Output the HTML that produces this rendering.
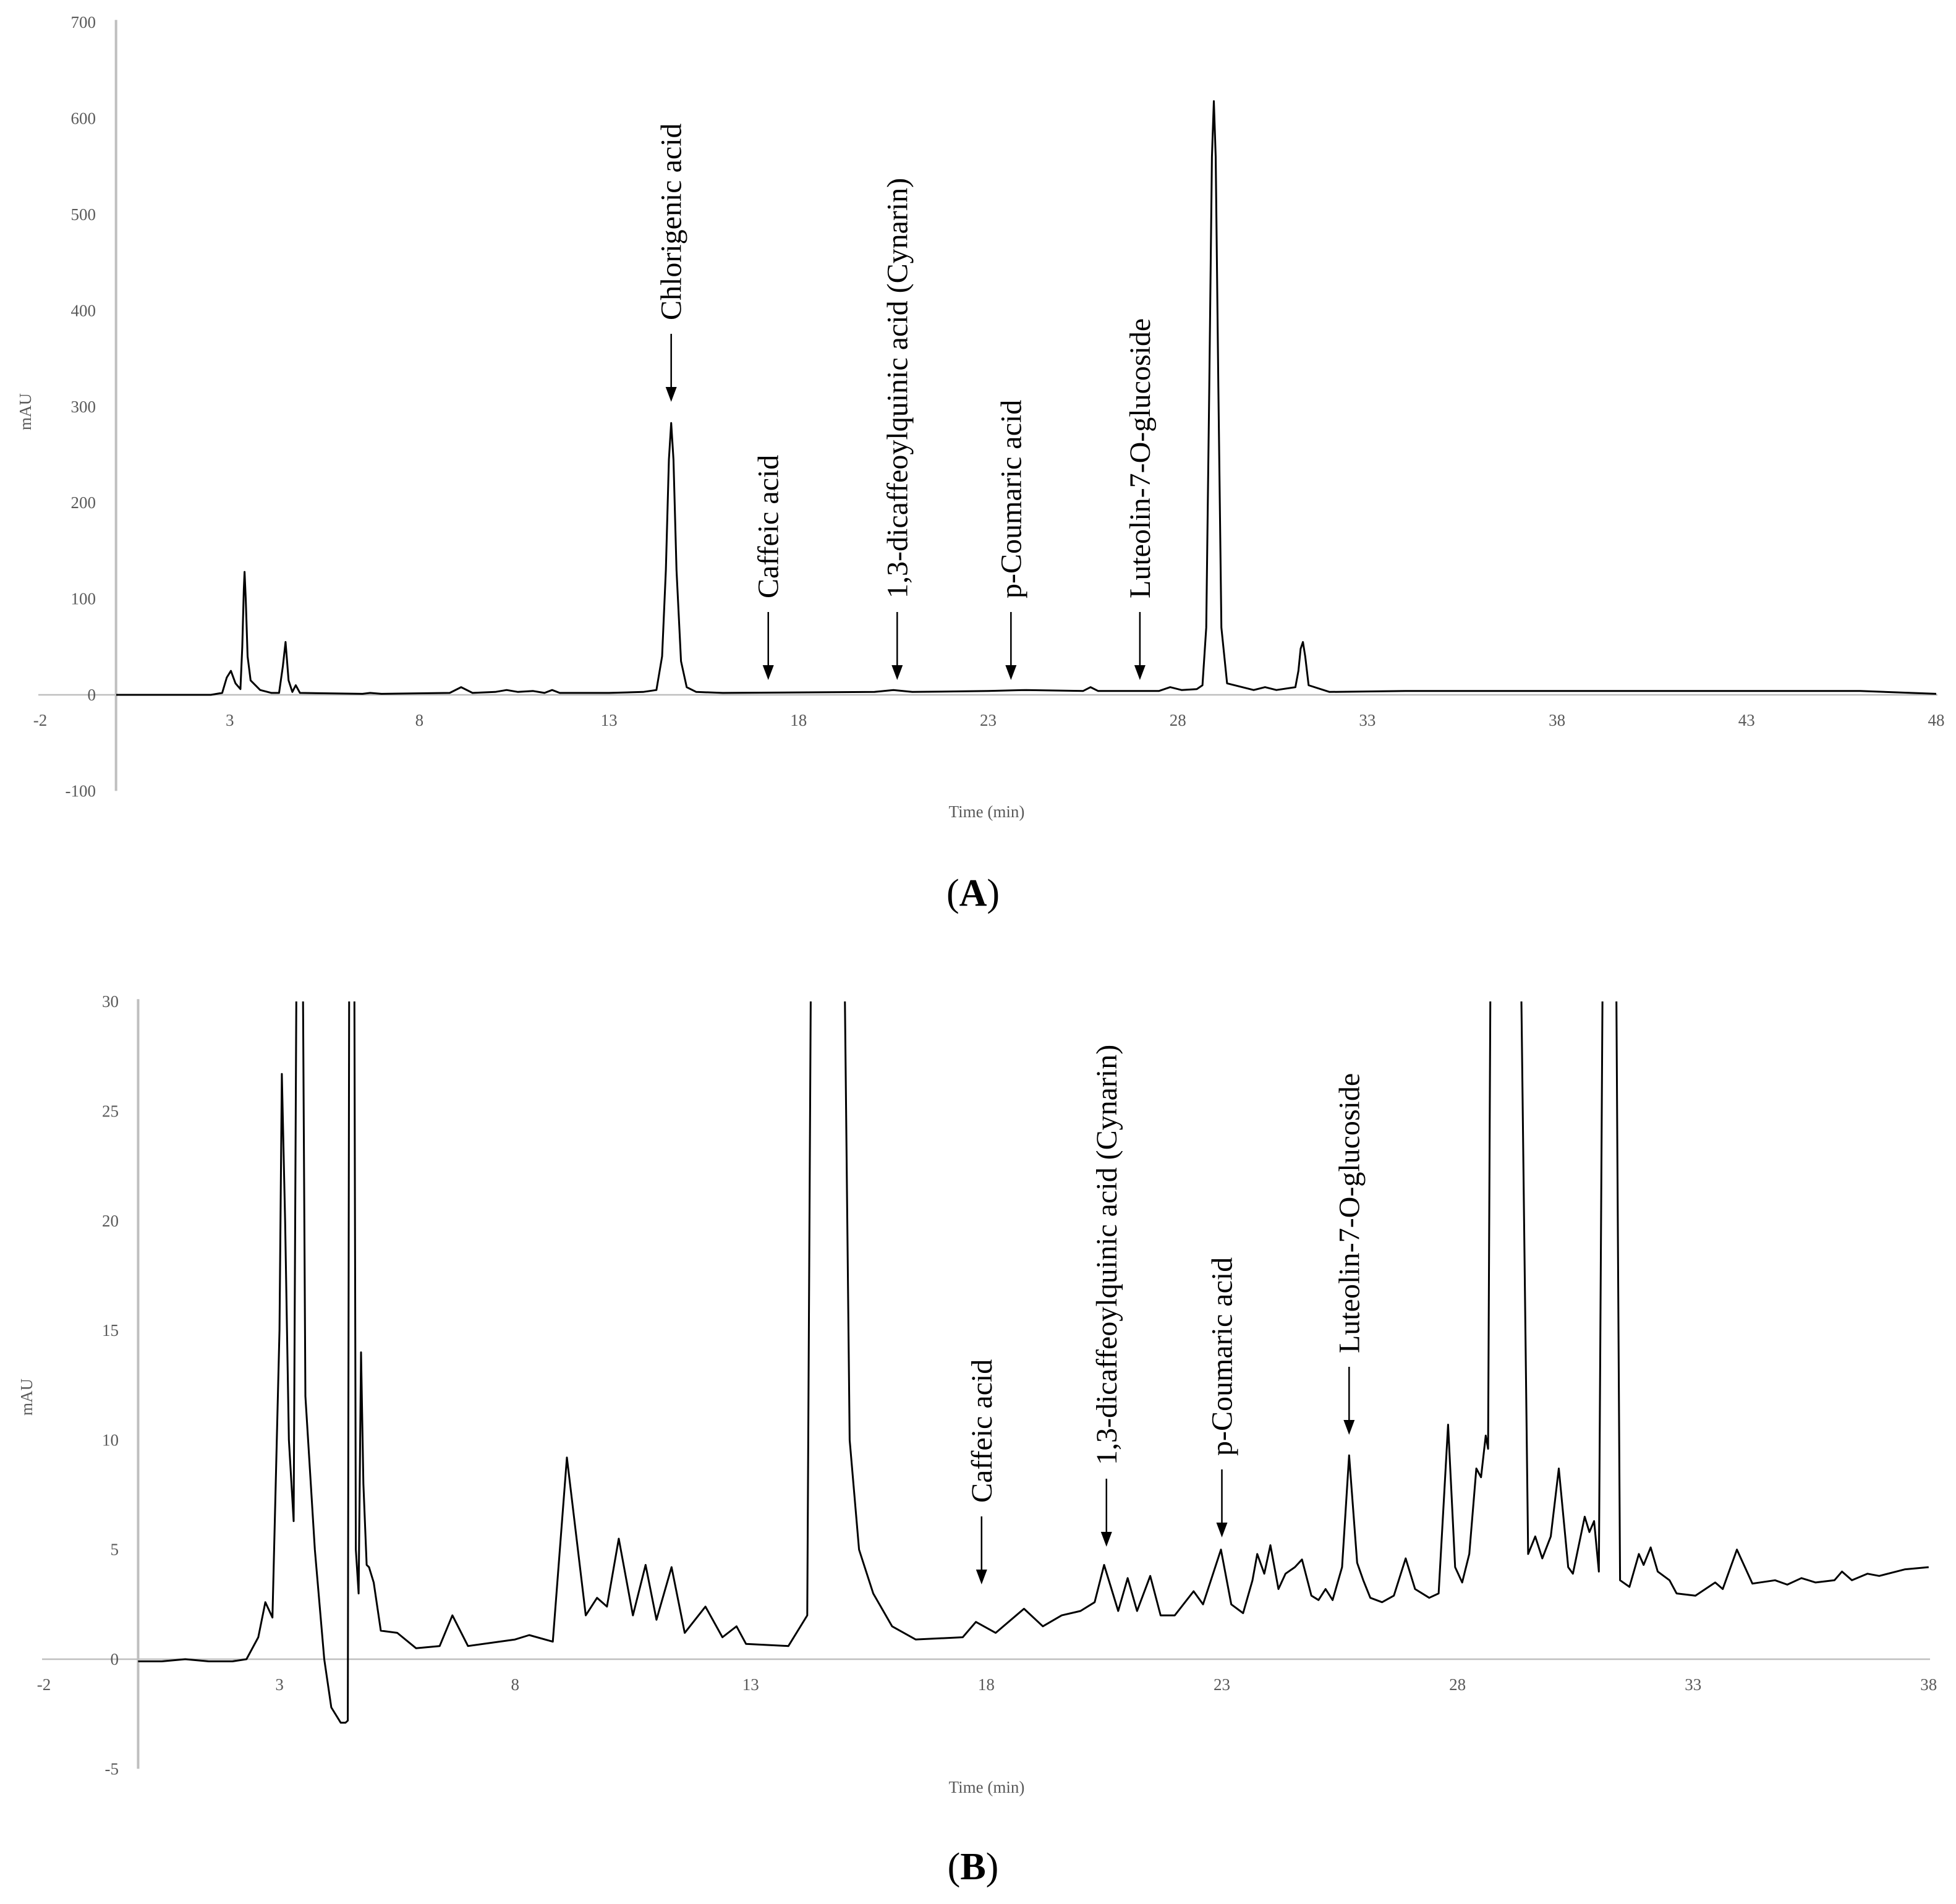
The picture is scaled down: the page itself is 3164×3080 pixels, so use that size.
<!DOCTYPE html>
<html><head><meta charset="utf-8"><style>
html,body{margin:0;padding:0;background:#fff}
svg{display:block}
text{font-family:"Liberation Serif",serif}
.tick{fill:#595959;font-size:27px}
.ann{fill:#000;font-size:48px}
</style></head><body>
<svg id="svg" width="3164" height="3080" viewBox="0 0 3164 3080">
<defs>
<clipPath id="clipA"><rect x="188" y="20" width="2960" height="1260"/></clipPath>
<clipPath id="clipB"><rect x="223" y="1620" width="2920" height="1245"/></clipPath>
</defs>
<g id="panelA"></g>
<g id="panelB"></g>
<text x="1596" y="1322" text-anchor="middle" class="tick">Time (min)</text>
<text x="50" y="666" text-anchor="middle" class="tick" transform="rotate(-90 50 666)">mAU</text>
<text x="1574" y="1465" text-anchor="middle" font-size="62">(<tspan font-weight="bold">A</tspan>)</text>
<text x="1596" y="2900" text-anchor="middle" class="tick">Time (min)</text>
<text x="52" y="2260" text-anchor="middle" class="tick" transform="rotate(-90 52 2260)">mAU</text>
<text x="1574" y="3040" text-anchor="middle" font-size="62">(<tspan font-weight="bold">B</tspan>)</text>
</svg>
<script>
// Panel A data
const aTime=[0,2.5,2.8,2.92,3.03,3.15,3.28,3.33,3.37,3.39,
3.42,3.47,3.55,3.8,4.1,4.3,4.4,4.47,4.55,4.65,
4.74,4.85,6.5,6.7,7,8.8,9.1,9.4,10,10.3,
10.6,11,11.3,11.5,11.7,13,13.9,14.25,14.4,14.5,
14.58,14.64,14.7,14.78,14.9,15.05,15.3,16,20,20.5,
21,23,24,25.5,25.7,25.9,27.5,27.8,28.1,28.5,
28.65,28.75,28.83,28.9,28.95,29.0,29.07,29.15,29.3,30,
30.3,30.6,31.1,31.18,31.24,31.3,31.36,31.45,32,34,
40,46,48];
const aValue=[0,0,2,18,25,12,6,50,110,128,
100,40,15,5,2,2,30,55,15,3,
10,2,1,2,1,2,8,2,3,5,
3,4,2,5,2,2,3,5,40,130,
245,283,245,130,35,8,3,2,3,5,
3,4,5,4,8,4,4,8,5,6,
10,70,320,560,618,560,320,70,12,5,
8,5,8,25,48,55,40,10,3,4,
4,4,1];
const aXTicks=[-2,3,8,13,18,23,28,33,38,43,48];
const aYTicks=[-100,0,100,200,300,400,500,600,700];
const aLabels=["Chlorigenic acid","Caffeic acid","1,3-dicaffeoylquinic acid (Cynarin)","p-Coumaric acid","Luteolin-7-O-glucoside"];
const aLabelTimes=[14.64,17.2,20.6,23.6,27.0];
// Panel B data
const bTime=[0,0.5,1,1.5,2,2.3,2.55,2.7,2.85,3.0,
3.05,3.12,3.2,3.3,3.38,3.45,3.5,3.55,3.75,3.95,
4.1,4.3,4.4,4.45,4.5,4.56,4.62,4.68,4.73,4.78,
4.85,4.9,5.0,5.15,5.5,5.9,6.4,6.67,7.0,8.0,
8.3,8.8,9.1,9.5,9.74,9.95,10.2,10.5,10.77,11.0,
11.32,11.6,12.04,12.4,12.7,12.9,13.8,14.2,14.3,14.45,
14.65,14.85,14.95,15.1,15.3,15.6,16,16.5,17.5,17.78,
18.2,18.8,19.2,19.6,20.0,20.3,20.5,20.8,21.0,21.2,
21.48,21.7,22.0,22.4,22.6,22.98,23.2,23.45,23.65,23.75,
23.9,24.03,24.2,24.35,24.55,24.7,24.9,25.05,25.2,25.35,
25.55,25.7,25.87,26.0,26.15,26.4,26.65,26.9,27.1,27.4,
27.6,27.8,27.95,28.1,28.25,28.4,28.5,28.6,28.65,28.72,
29.0,29.3,29.5,29.65,29.8,29.98,30.15,30.35,30.45,30.7,
30.8,30.9,31.0,31.15,31.3,31.45,31.65,31.85,31.95,32.1,
32.25,32.5,32.65,33.05,33.47,33.63,33.93,34.26,34.74,35.0,
35.3,35.6,36.0,36.16,36.37,36.7,36.95,37.5,38.0];
const bValue=[-0.1,-0.1,0,-0.1,-0.1,0,1.0,2.6,1.9,15,
26.7,20,10,6.3,40,128,30,12,5,0,
-2.2,-2.9,-2.9,-2.8,55,55,5,3.0,14,8,
4.3,4.2,3.5,1.3,1.2,0.5,0.6,2,0.6,0.9,
1.1,0.8,9.2,2,2.8,2.4,5.5,2,4.3,1.8,
4.2,1.2,2.4,1.0,1.5,0.7,0.6,2,40,150,
280,150,40,10,5,3,1.5,0.9,1.0,1.7,
1.2,2.3,1.5,2.0,2.2,2.6,4.3,2.2,3.7,2.2,
3.8,2.0,2.0,3.1,2.5,5.0,2.5,2.1,3.6,4.8,
3.9,5.2,3.2,3.9,4.2,4.55,2.9,2.7,3.2,2.7,
4.2,9.3,4.4,3.6,2.8,2.6,2.9,4.6,3.2,2.8,
3.0,10.7,4.2,3.5,4.8,8.7,8.3,10.2,9.6,40,
600,40,4.8,5.6,4.6,5.6,8.7,4.2,3.9,6.5,
5.8,6.3,4.0,55,55,3.6,3.3,4.8,4.3,5.1,
4.0,3.6,3.0,2.9,3.5,3.2,5.0,3.45,3.6,3.4,
3.7,3.5,3.6,4.0,3.6,3.9,3.8,4.1,4.2];
const bXTicks=[-2,3,8,13,18,23,28,33,38];
const bYTicks=[-5,0,5,10,15,20,25,30];
const bLabels=["Caffeic acid","1,3-dicaffeoylquinic acid (Cynarin)","p-Coumaric acid","Luteolin-7-O-glucoside"];
const bLabelTimes=[17.9,20.55,23.0,25.7];

const NS="http://www.w3.org/2000/svg";
function mk(tag,attrs,parent){const e=document.createElementNS(NS,tag);for(const k in attrs)e.setAttribute(k,attrs[k]);parent.appendChild(e);return e;}

function drawPanel(g,cfg){
  const xs=t=>cfg.x0+(t-cfg.tmin)*cfg.pxPerMin;
  const ys=v=>cfg.y0-v*cfg.pxPerUnit;
  const xl=mk('line',{x1:cfg.xAxisStart,x2:cfg.xAxisEnd,y1:ys(0),y2:ys(0),stroke:'#bfbfbf','stroke-width':2.5},g);
  
  
  const yl=mk('line',{x1:xs(0),x2:xs(0),y1:ys(cfg.yTicks[cfg.yTicks.length-1])-4,y2:ys(cfg.yTicks[0]),stroke:'#bfbfbf','stroke-width':4},g);
  
  
  cfg.xTicks.forEach(t=>{
    const e=mk('text',{x:xs(t),y:ys(0)+cfg.xTickDy,'text-anchor':'middle','class':'tick'},g);
    e.textContent=t;
    
    
  });
  cfg.yTicks.forEach(v=>{
    const e=mk('text',{x:cfg.yLabelX,y:ys(v)+9,'text-anchor':'end','class':'tick'},g);
    e.textContent=v;
    
    
  });
  let d='';
  const n=Math.min(cfg.time.length,cfg.value.length);
  for(let i=0;i<n;i++){d+=(i?'L':'M')+xs(cfg.time[i]).toFixed(1)+','+ys(cfg.value[i]).toFixed(1);}
  const p=mk('path',{d:d,fill:'none',stroke:'#000','stroke-width':3,'stroke-linejoin':'round','clip-path':cfg.clip},g);
  
  
  cfg.labels.forEach((lab,i)=>{
    const x=xs(cfg.labelTimes[i]);
    const yb=cfg.arrowBottom[i];
    const ytop=yb-cfg.arrowLen;
    const ln=mk('line',{x1:x,x2:x,y1:ytop,y2:yb-22,stroke:'#000','stroke-width':2.5},g);
    
    
    const hd=mk('polygon',{points:(x-9)+','+(yb-24)+' '+(x+9)+','+(yb-24)+' '+x+','+yb,fill:'#000'},g);
    
    
    const ty=ytop-22;
    const tx=mk('text',{x:x+16,y:ty,'class':'ann',transform:'rotate(-90 '+(x+16)+' '+ty+')'},g);
    tx.textContent=lab;
    
    
  });
}
drawPanel(document.getElementById('panelA'),{x0:65,tmin:-2,pxPerMin:61.34,y0:1124,pxPerUnit:1.554,xAxisStart:62,xAxisEnd:3134,xTickDy:50,yLabelX:155,
  time:aTime,value:aValue,xTicks:aXTicks,yTicks:aYTicks,clip:'url(#clipA)',labels:aLabels,labelTimes:aLabelTimes,
  arrowBottom:[650,1100,1100,1100,1100],arrowLen:110});
drawPanel(document.getElementById('panelB'),{x0:71,tmin:-2,pxPerMin:76.22,y0:2684,pxPerUnit:35.46,xAxisStart:68,xAxisEnd:3122,xTickDy:50,yLabelX:192,
  time:bTime,value:bValue,xTicks:bXTicks,yTicks:bYTicks,clip:'url(#clipB)',labels:bLabels,labelTimes:bLabelTimes,
  arrowBottom:[2563,2502,2487,2321],arrowLen:110});
</script>
</body></html>
